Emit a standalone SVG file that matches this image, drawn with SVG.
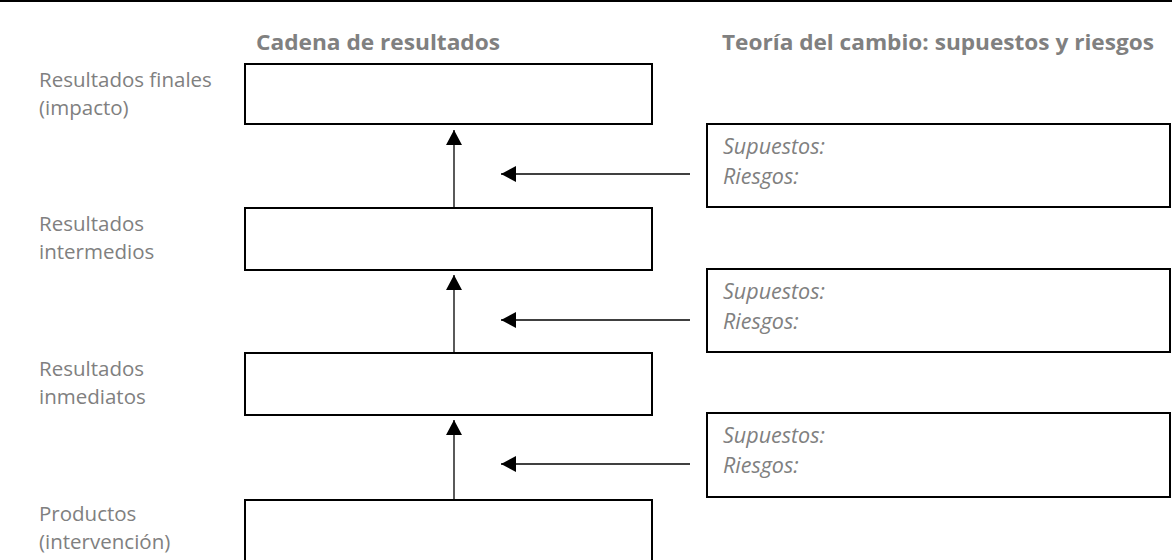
<svg xmlns="http://www.w3.org/2000/svg" width="1172" height="560" viewBox="0 0 1172 560">
<defs>
<style>
.lbl{font-family:"Open Sans","Noto Sans",sans-serif;font-size:20.5px;fill:#808080}
.hd{font-family:"Open Sans","Noto Sans",sans-serif;font-size:21px;font-weight:bold;fill:#808080}
.it{font-family:"Open Sans","Noto Sans",sans-serif;font-size:21.5px;font-style:italic;fill:#808080}
.box{fill:#fff;stroke:#000;stroke-width:2}
.con{stroke:#000;stroke-width:1.3;fill:none;marker-end:url(#ah)}
</style>
<marker id="ah" viewBox="0 0 15 16" refX="15" refY="8" markerWidth="15" markerHeight="16" markerUnits="userSpaceOnUse" orient="auto"><path d="M0,0 L15,8 L0,16 z" fill="#000"/></marker>
</defs>
<rect width="1172" height="560" fill="#fff"/>
<rect x="0" y="0" width="1172" height="2" fill="#000"/>
<text class="hd" x="256" y="50" textLength="244" lengthAdjust="spacingAndGlyphs">Cadena de resultados</text>
<text class="hd" x="722" y="50" textLength="432" lengthAdjust="spacingAndGlyphs">Teoría del cambio: supuestos y riesgos</text>
<g id="n1"><rect class="box" x="245" y="64" width="407" height="60"/><text class="lbl" x="39" y="87">Resultados finales</text><text class="lbl" x="39" y="115">(impacto)</text></g>
<g id="n2"><rect class="box" x="245" y="208" width="407" height="62"/><text class="lbl" x="39" y="231">Resultados</text><text class="lbl" x="39" y="259">intermedios</text></g>
<g id="n3"><rect class="box" x="245" y="353" width="407" height="62"/><text class="lbl" x="39" y="376">Resultados</text><text class="lbl" x="39" y="404">inmediatos</text></g>
<g id="n4"><rect class="box" x="245" y="500" width="407" height="70"/><text class="lbl" x="39" y="521">Productos</text><text class="lbl" x="39" y="549">(intervención)</text></g>
<g id="r1"><rect class="box" x="707" y="124" width="463" height="83"/><text class="it" x="723" y="154">Supuestos:</text><text class="it" x="723" y="184">Riesgos:</text></g>
<g id="r2"><rect class="box" x="707" y="269" width="463" height="83"/><text class="it" x="723" y="299">Supuestos:</text><text class="it" x="723" y="329">Riesgos:</text></g>
<g id="r3"><rect class="box" x="707" y="413" width="463" height="84"/><text class="it" x="723" y="443">Supuestos:</text><text class="it" x="723" y="473">Riesgos:</text></g>
<g id="connectors">
<line class="con" x1="454" y1="207" x2="454" y2="130"/>
<line class="con" x1="454" y1="352" x2="454" y2="275"/>
<line class="con" x1="454" y1="499" x2="454" y2="420"/>
<line class="con" x1="690" y1="174" x2="501" y2="174"/>
<line class="con" x1="690" y1="320" x2="501" y2="320"/>
<line class="con" x1="690" y1="464" x2="501" y2="464"/>
</g>
</svg>
